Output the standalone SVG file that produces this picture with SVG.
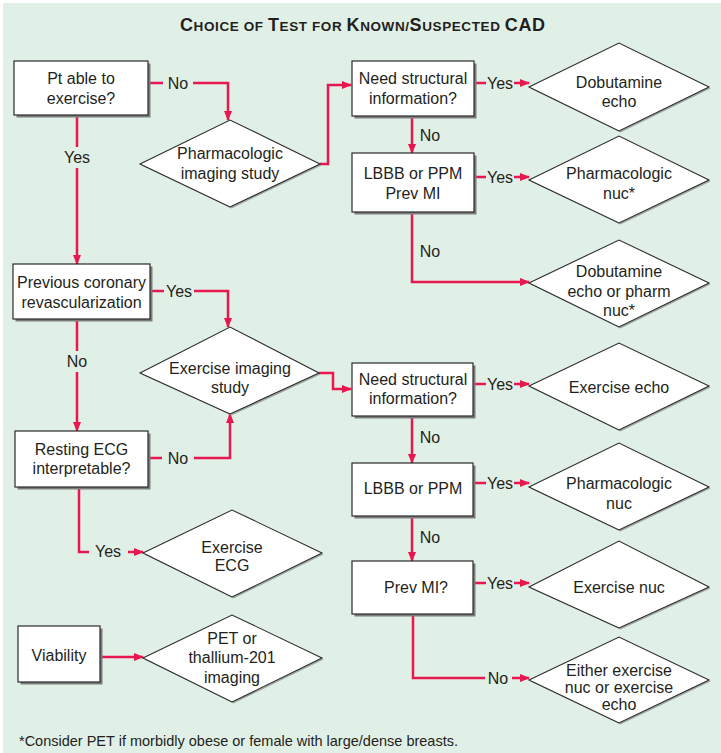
<svg xmlns="http://www.w3.org/2000/svg" width="721" height="753" viewBox="0 0 721 753">
<defs>
<style>
.bg{fill:#e1f0e6}
.box{fill:#fff;stroke:#2a2a2a;stroke-width:1.2}
.sh{fill:#7d7d7d}
.dsh{fill:#a0a8a2}
.dia{fill:#fff;stroke:#2a2a2a;stroke-width:1.1}
.t{font-family:"Liberation Sans",Arial,sans-serif;font-size:16px;fill:#231f20;text-anchor:middle}
.lbl{font-family:"Liberation Sans",Arial,sans-serif;font-size:16px;fill:#231f20;text-anchor:middle}
.c{fill:none;stroke:#e8174f;stroke-width:2.5}
.ttl{font-family:"Liberation Sans",Arial,sans-serif;font-weight:bold;fill:#231f20}
.fn{font-family:"Liberation Sans",Arial,sans-serif;font-size:14.5px;fill:#231f20}
</style>
<marker id="ah" markerUnits="userSpaceOnUse" markerWidth="10" markerHeight="8" refX="9" refY="4" orient="auto">
<path d="M0,0 L10,4 L0,8 Z" fill="#e8174f"/>
</marker>
</defs>
<rect class="bg" x="3" y="3" width="718" height="750"/>
<text class="ttl" x="180" y="31" textLength="365" lengthAdjust="spacing"><tspan font-size="18">C</tspan><tspan font-size="13.5">HOICE OF </tspan><tspan font-size="18">T</tspan><tspan font-size="13.5">EST FOR </tspan><tspan font-size="18">K</tspan><tspan font-size="13.5">NOWN/</tspan><tspan font-size="18">S</tspan><tspan font-size="13.5">USPECTED </tspan><tspan font-size="18">CAD</tspan></text>

<g id="connectors">
<path class="c" d="M148,83 H163 M193,83 H228 V120" marker-end="url(#ah)"/>
<path class="c" d="M320,164 H328 V85 H351" marker-end="url(#ah)"/>
<path class="c" d="M77,115 V147 M77,168 V264" marker-end="url(#ah)"/>
<path class="c" d="M474,83 H486 M514,83 H529" marker-end="url(#ah)"/>
<path class="c" d="M412,116 V153" marker-end="url(#ah)"/>
<path class="c" d="M474,177 H486 M514,177 H529" marker-end="url(#ah)"/>
<path class="c" d="M412,212 V282 H529" marker-end="url(#ah)"/>
<path class="c" d="M150,291 H164 M194,291 H228 V327" marker-end="url(#ah)"/>
<path class="c" d="M77,319 V351 M77,372 V431" marker-end="url(#ah)"/>
<path class="c" d="M319,373 H333 V389 H351" marker-end="url(#ah)"/>
<path class="c" d="M148,458 H162 M194,458 H230 V414" marker-end="url(#ah)"/>
<path class="c" d="M79,487 V552 H89 M128,552 H143" marker-end="url(#ah)"/>
<path class="c" d="M474,384 H486 M514,384 H529" marker-end="url(#ah)"/>
<path class="c" d="M412,416 V463" marker-end="url(#ah)"/>
<path class="c" d="M474,483 H486 M514,483 H529" marker-end="url(#ah)"/>
<path class="c" d="M412,516 V561" marker-end="url(#ah)"/>
<path class="c" d="M474,583 H486 M514,583 H529" marker-end="url(#ah)"/>
<path class="c" d="M413,614 V678 H485 M512,678 H529" marker-end="url(#ah)"/>
<path class="c" d="M100,657 H143" marker-end="url(#ah)"/>
<text class="lbl" x="178" y="88.5">No</text>
<text class="lbl" x="77" y="162.5">Yes</text>
<text class="lbl" x="500" y="88.5">Yes</text>
<text class="lbl" x="430" y="140.5">No</text>
<text class="lbl" x="500" y="182.5">Yes</text>
<text class="lbl" x="430" y="256.5">No</text>
<text class="lbl" x="179" y="296.5">Yes</text>
<text class="lbl" x="77" y="367">No</text>
<text class="lbl" x="178" y="463.5">No</text>
<text class="lbl" x="108" y="557">Yes</text>
<text class="lbl" x="500" y="389.5">Yes</text>
<text class="lbl" x="430" y="442.5">No</text>
<text class="lbl" x="500" y="488.5">Yes</text>
<text class="lbl" x="430" y="542.5">No</text>
<text class="lbl" x="500" y="588.5">Yes</text>
<text class="lbl" x="498" y="683.5">No</text>
</g>

<g id="n-able">
<rect class="sh" x="16.5" y="63.5" width="134" height="54"/>
<rect class="box" x="14" y="61" width="134" height="54"/>
<text class="t" x="81" y="83.5">Pt able to</text>
<text class="t" x="81" y="103.5">exercise?</text>
</g>
<g id="n-pharm-study">
<polygon class="dsh" points="141.5,165.5 231.5,121.5 321.5,165.5 231.5,208.5"/>
<polygon class="dia" points="140,164 230,120 320,164 230,207"/>
<text class="t" x="230" y="159">Pharmacologic</text>
<text class="t" x="230" y="179">imaging study</text>
</g>
<g id="n-need1">
<rect class="sh" x="354.5" y="63.5" width="122" height="55"/>
<rect class="box" x="352" y="61" width="122" height="55"/>
<text class="t" x="413" y="84">Need structural</text>
<text class="t" x="413" y="104">information?</text>
</g>
<g id="n-dob-echo">
<polygon class="dsh" points="530.5,88.5 620.5,44.5 710.5,88.5 620.5,132.5"/>
<polygon class="dia" points="529,87 619,43 709,87 619,131"/>
<text class="t" x="619" y="87.5">Dobutamine</text>
<text class="t" x="619" y="106.5">echo</text>
</g>
<g id="n-lbbb1">
<rect class="sh" x="354.5" y="155.5" width="122" height="59"/>
<rect class="box" x="352" y="153" width="122" height="59"/>
<text class="t" x="413" y="178.5">LBBB or PPM</text>
<text class="t" x="413" y="198.5">Prev MI</text>
</g>
<g id="n-pharm-nuc1">
<polygon class="dsh" points="530.5,181.5 620.5,137.5 710.5,181.5 620.5,224.5"/>
<polygon class="dia" points="529,180 619,136 709,180 619,223"/>
<text class="t" x="619" y="178.5">Pharmacologic</text>
<text class="t" x="619" y="198.5">nuc*</text>
</g>
<g id="n-dob-or-pharm">
<polygon class="dsh" points="530.5,284.5 620.5,241.5 710.5,284.5 620.5,328.5"/>
<polygon class="dia" points="529,283 619,240 709,283 619,327"/>
<text class="t" x="619" y="277">Dobutamine</text>
<text class="t" x="619" y="296.5">echo or pharm</text>
<text class="t" x="619" y="316">nuc*</text>
</g>
<g id="n-prev-revasc">
<rect class="sh" x="15.5" y="266.5" width="137" height="55"/>
<rect class="box" x="13" y="264" width="137" height="55"/>
<text class="t" x="81.5" y="287.5">Previous coronary</text>
<text class="t" x="81.5" y="307.5">revascularization</text>
</g>
<g id="n-ex-imaging">
<polygon class="dsh" points="141.5,374.5 231.5,328.5 320.5,374.5 231.5,415.5"/>
<polygon class="dia" points="140,373 230,327 319,373 230,414"/>
<text class="t" x="230" y="373.5">Exercise imaging</text>
<text class="t" x="230" y="392.5">study</text>
</g>
<g id="n-resting-ecg">
<rect class="sh" x="17.5" y="433.5" width="133" height="56"/>
<rect class="box" x="15" y="431" width="133" height="56"/>
<text class="t" x="81.5" y="454.5">Resting ECG</text>
<text class="t" x="81.5" y="473.5">interpretable?</text>
</g>
<g id="n-ex-ecg">
<polygon class="dsh" points="144.5,554.5 233.5,511.5 323.5,554.5 233.5,598.5"/>
<polygon class="dia" points="143,553 232,510 322,553 232,597"/>
<text class="t" x="232" y="552.5">Exercise</text>
<text class="t" x="232" y="571">ECG</text>
</g>
<g id="n-need2">
<rect class="sh" x="354.5" y="365.5" width="121" height="53"/>
<rect class="box" x="352" y="363" width="121" height="53"/>
<text class="t" x="413" y="384.5">Need structural</text>
<text class="t" x="413" y="403.5">information?</text>
</g>
<g id="n-ex-echo">
<polygon class="dsh" points="530.5,387.5 620.5,344.5 710.5,387.5 620.5,431.5"/>
<polygon class="dia" points="529,386 619,343 709,386 619,430"/>
<text class="t" x="619" y="392.5">Exercise echo</text>
</g>
<g id="n-lbbb2">
<rect class="sh" x="354.5" y="465.5" width="121" height="53"/>
<rect class="box" x="352" y="463" width="121" height="53"/>
<text class="t" x="413" y="493.5">LBBB or PPM</text>
</g>
<g id="n-pharm-nuc2">
<polygon class="dsh" points="530.5,488.5 620.5,444.5 710.5,488.5 620.5,531.5"/>
<polygon class="dia" points="529,487 619,443 709,487 619,530"/>
<text class="t" x="619" y="488.5">Pharmacologic</text>
<text class="t" x="619" y="508.5">nuc</text>
</g>
<g id="n-prev-mi">
<rect class="sh" x="354.5" y="563.5" width="121" height="53"/>
<rect class="box" x="352" y="561" width="121" height="53"/>
<text class="t" x="416" y="592.5">Prev MI?</text>
</g>
<g id="n-ex-nuc">
<polygon class="dsh" points="530.5,588.5 620.5,542.5 710.5,588.5 620.5,629.5"/>
<polygon class="dia" points="529,587 619,541 709,587 619,628"/>
<text class="t" x="619" y="592.5">Exercise nuc</text>
</g>
<g id="n-either">
<polygon class="dsh" points="530.5,681.5 620.5,638.5 710.5,681.5 620.5,724.5"/>
<polygon class="dia" points="529,680 619,637 709,680 619,723"/>
<text class="t" x="619" y="676">Either exercise</text>
<text class="t" x="619" y="693">nuc or exercise</text>
<text class="t" x="619" y="710">echo</text>
</g>
<g id="n-viability">
<rect class="sh" x="20.5" y="628.5" width="82" height="56"/>
<rect class="box" x="18" y="626" width="82" height="56"/>
<text class="t" x="59" y="660.5">Viability</text>
</g>
<g id="n-pet">
<polygon class="dsh" points="144.5,659.5 233.5,616.5 323.5,659.5 233.5,703.5"/>
<polygon class="dia" points="143,658 232,615 322,658 232,702"/>
<text class="t" x="232" y="643.5">PET or</text>
<text class="t" x="232" y="663">thallium-201</text>
<text class="t" x="232" y="682.5">imaging</text>
</g>
<text class="fn" x="19" y="745.5">*Consider PET if morbidly obese or female with large/dense breasts.</text>
</svg>
